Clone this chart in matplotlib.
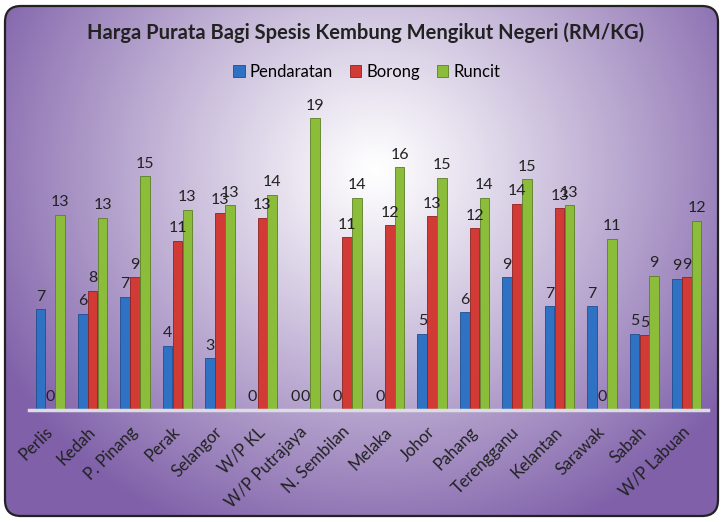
import numpy as np
import matplotlib.pyplot as plt
from matplotlib.patches import FancyBboxPatch
from matplotlib.colors import to_rgb

plt.rcParams['font.family'] = ['Lato', 'DejaVu Sans']

negeri = ['Perlis', 'Kedah', 'P. Pinang', 'Perak', 'Selangor', 'W/P KL',
          'W/P Putrajaya', 'N. Sembilan', 'Melaka', 'Johor', 'Pahang',
          'Terengganu', 'Kelantan', 'Sarawak', 'Sabah', 'W/P Labuan']
pendaratan = [6.6, 6.3, 7.4, 4.2, 3.4, 0, 0, 0, 0, 5.0, 6.4, 8.7, 6.8, 6.8, 5.0, 8.6]
borong = [0, 7.8, 8.7, 11.1, 12.9, 12.6, 0, 11.3, 12.1, 12.7, 11.9, 13.5, 13.2, 0, 4.9, 8.7]
runcit = [12.8, 12.6, 15.3, 13.1, 13.4, 14.1, 19.1, 13.9, 15.9, 15.2, 13.9, 15.1, 13.4, 11.2, 8.8, 12.4]

W, H = 723, 522
fig = plt.figure(figsize=(W / 100, H / 100), dpi=100)

# background panel with radial gradient
bg = fig.add_axes([0, 0, 1, 1])
bg.set_xlim(0, W)
bg.set_ylim(H, 0)
bg.axis('off')
yy, xx = np.mgrid[0:H, 0:W]
t = np.sqrt(((xx - 375) / 430.0) ** 2 + ((yy - 170) / 400.0) ** 2)
t = np.clip(t, 0, 1) ** 1.1
white = np.array([1.0, 1.0, 1.0])
purple = np.array(to_rgb('#7f60a9'))
img = white[None, None, :] * (1 - t[..., None]) + purple[None, None, :] * t[..., None]
im = bg.imshow(img, extent=(0, W, H, 0), zorder=0)
frame = FancyBboxPatch((5, 6), 713, 510, boxstyle='round,pad=0,rounding_size=16',
                       facecolor='none', edgecolor='#222222', linewidth=1.6, zorder=2)
bg.add_patch(frame)
im.set_clip_path(frame)

fig.text(0.505, 1 - 33 / H, 'Harga Purata Bagi Spesis Kembung Mengikut Negeri (RM/KG)',
         ha='center', va='center', fontsize=14.5, fontweight='bold', color='#222222')

ax = fig.add_axes([29 / W, (H - 410) / H, (708 - 29) / W, 313 / H])
ax.patch.set_alpha(0)
x = np.arange(len(negeri))
bw = 0.233
series = [(pendaratan, 'Pendaratan', '#2f72c4', '#1d4f8f'),
          (borong, 'Borong', '#d23a36', '#8f2220'),
          (runcit, 'Runcit', '#8cbd3a', '#5c7f24')]
for i, (vals, name, col, edge) in enumerate(series):
    pos = x + (i - 1) * bw
    ax.bar(pos, vals, bw * 0.97, color=col, edgecolor=edge, linewidth=0.6, label=name)
    for px, v in zip(pos, vals):
        ax.annotate(f'{v:.0f}', (px, v), xytext=(0, 4), textcoords='offset points',
                    ha='center', va='bottom', fontsize=11.5, color='#222222')

ax.set_xlim(-0.5, len(negeri) - 0.5)
ax.set_ylim(0, 20.5)
ax.set_yticks([])
for s in ['top', 'right', 'left']:
    ax.spines[s].set_visible(False)
ax.spines['bottom'].set_color('#dcdce4')
ax.spines['bottom'].set_linewidth(2.5)
ax.set_xticks(x)
ax.set_xticklabels(negeri, rotation=45, ha='right', va='center', rotation_mode='anchor',
                   fontsize=12, color='#222222')
ax.tick_params(axis='x', length=0, pad=14)

fig.legend(loc='center', bbox_to_anchor=(0.507, 1 - 72 / H), ncol=3, frameon=False,
           fontsize=12, handlelength=0.7, handleheight=0.7, handletextpad=0.3,
           columnspacing=1.0)

fig.savefig('out.png', dpi=100)
